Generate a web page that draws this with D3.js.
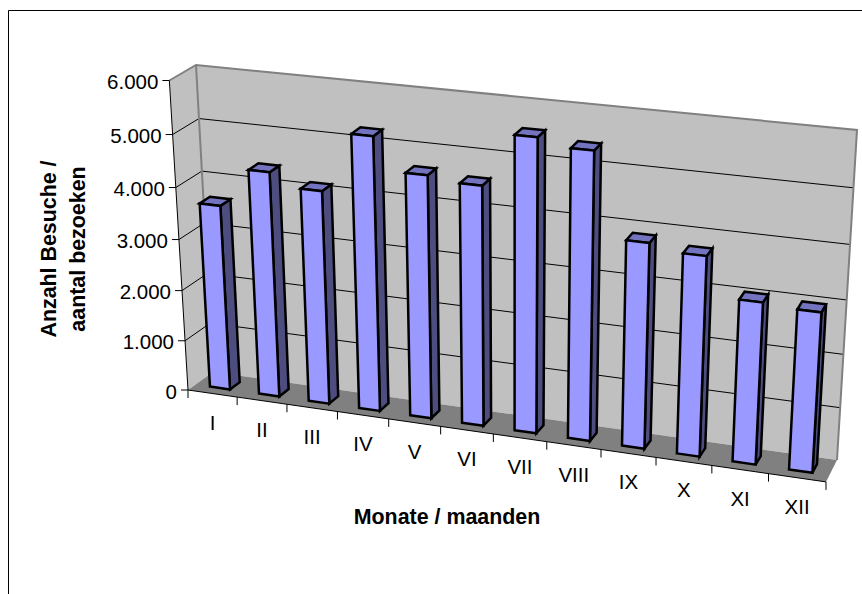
<!DOCTYPE html>
<html><head><meta charset="utf-8">
<style>html,body{margin:0;padding:0;background:#fff}svg{display:block}text{font-family:"Liberation Sans",Arial,sans-serif;fill:#000}</style>
<script src="https://cdnjs.cloudflare.com/ajax/libs/d3/7.8.5/d3.min.js"></script>
</head><body><script>
const categories=["I","II","III","IV","V","VI","VII","VIII","IX","X","XI","XII"];
const visits=[3632,4380,4137,5257,4651,4571,5550,5418,3875,3758,3042,2992];
const valueTicks=[0,1000,2000,3000,4000,5000,6000];
const formatValue=v=>d3.format(",")(v).replace(",",".");
const W=862,H=594;
const svg=d3.select("body").append("svg").attr("width",W).attr("height",H);

const wall={bl:[213,372],br:[837,460],tr:[857,130],tl:[196,65]};
const front={l:[188,390],r:[826,484]};
const depthShrink=0.0127;
function homography(p00,p10,p11,p01){
  const [x0,y0]=p00,[x1,y1]=p10,[x2,y2]=p11,[x3,y3]=p01;
  const dx1=x1-x2,dx2=x3-x2,dy1=y1-y2,dy2=y3-y2,sx=x0-x1+x2-x3,sy=y0-y1+y2-y3;
  const den=dx1*dy2-dx2*dy1;
  const g=(sx*dy2-dx2*sy)/den,h=(dx1*sy-sx*dy1)/den;
  return {a:[x1-x0+g*x1,y1-y0+g*y1,g],b:[x3-x0+h*x3,y3-y0+h*y3,h],o:[x0,y0,1]};
}
const Hm=homography(wall.bl,wall.br,wall.tr,wall.tl);
const cw=(Hm.a[0]+front.l[0]*Hm.o[2]-front.r[0]*Hm.a[2]-front.r[0]*Hm.o[2])/(front.r[0]-front.l[0]);
const cCol=[front.l[0]*(Hm.o[2]+cw)-Hm.o[0],front.l[1]*(Hm.o[2]+cw)-Hm.o[1],cw];
function project(u,v,d){
  const vv=v*(1-depthShrink*d);
  const X=i=>Hm.a[i]*u+Hm.b[i]*vv+cCol[i]*d+Hm.o[i];
  const w=X(2);
  return [X(0)/w,X(1)/w];
}

const xBand=d3.scaleBand().domain(categories).range([0,1]).paddingInner(0.59).paddingOuter(0.295);
const xEdge=d3.scaleLinear().domain([0,categories.length]).range([0,1]);
const yVal=d3.scaleLinear().domain([0,6000]).range([0,1]);
const dBar={front:0.7,back:0.3};
const line=d3.line();
const poly=pts=>line(pts)+"Z";

svg.append("path").attr("d","M8.5,594V10.5H862").attr("fill","none").attr("stroke","#000").attr("stroke-width",1);

svg.append("path").attr("d",poly([project(0,0,1),project(0,0,0),project(0,1,0),project(0,1,1)])).attr("fill","#C0C0C0");
svg.append("path").attr("d",poly([project(0,0,0),project(1,0,0),project(1,1,0),project(0,1,0)])).attr("fill","#C0C0C0");
svg.append("path").attr("d",poly([project(0,0,1),project(1,0,1),project(1,0,0),project(0,0,0)])).attr("fill","#808080");

const grid=svg.append("g").attr("fill","none").attr("stroke","#000").attr("stroke-width",1);
valueTicks.filter(v=>v>0&&v<6000).forEach(v=>{
  const t=yVal(v);
  grid.append("path").attr("d",line([project(0,t,1),project(0,t,0),project(1,t,0)]));
});

svg.append("path").attr("fill","none").attr("stroke","#808080").attr("stroke-width",2)
  .attr("d",line([project(0,1,1),project(0,1,0),project(1,1,0),project(1,0,0)]));
svg.append("path").attr("fill","none").attr("stroke","#808080").attr("stroke-width",2)
  .attr("d",line([project(0,1,0),project(0,0,0)]));

const axis=svg.append("g").attr("fill","none").attr("stroke","#000").attr("stroke-width",1);
axis.append("path").attr("d",line([project(0,0,1),project(0,1,1)]));
axis.append("path").attr("d",line([project(0,0,1),project(1,0,1)]));
valueTicks.forEach(v=>{
  const p=project(0,yVal(v),1);
  axis.append("path").attr("d",line([[p[0]-7,p[1]],p]));
  svg.append("text").attr("x",p[0]-11).attr("y",p[1]+8.5).attr("text-anchor","end").attr("font-size",20.5).text(formatValue(v));
});
d3.range(categories.length+1).forEach(i=>{
  const p=project(xEdge(i),0,1);
  axis.append("path").attr("d",line([p,[p[0],p[1]+8]]));
});
categories.forEach(c=>{
  const p=project(xBand(c)+xBand.bandwidth()/2,0,1);
  svg.append("text").attr("x",p[0]).attr("y",p[1]+36).attr("text-anchor","middle").attr("font-size",20.5).text(c);
});

const bars=svg.append("g").attr("stroke","#000").attr("stroke-width",2.5).attr("stroke-linejoin","miter");
categories.forEach((c,i)=>{
  const u0=xBand(c),u1=u0+xBand.bandwidth(),t=yVal(visits[i]),f=dBar.front,b=dBar.back;
  bars.append("path").attr("fill","#4D4D80").attr("d",poly([project(u1,0,f),project(u1,0,b),project(u1,t,b),project(u1,t,f)]));
  bars.append("path").attr("fill","#7373BF").attr("d",poly([project(u0,t,f),project(u1,t,f),project(u1,t,b),project(u0,t,b)]));
  bars.append("path").attr("fill","#9999FF").attr("d",poly([project(u0,0,f),project(u1,0,f),project(u1,t,f),project(u0,t,f)]));
});

svg.append("text").attr("x",447).attr("y",524).attr("text-anchor","middle").attr("font-size",21.4).attr("font-weight","bold").text("Monate / maanden");
const yt=svg.append("text").attr("transform","translate(56,249) rotate(-90)").attr("text-anchor","middle").attr("font-size",21.4).attr("font-weight","bold");
yt.append("tspan").attr("x",0).attr("dy",0).text("Anzahl Besuche /");
yt.append("tspan").attr("x",0).attr("dy",29).text("aantal bezoeken");
</script></body></html>
